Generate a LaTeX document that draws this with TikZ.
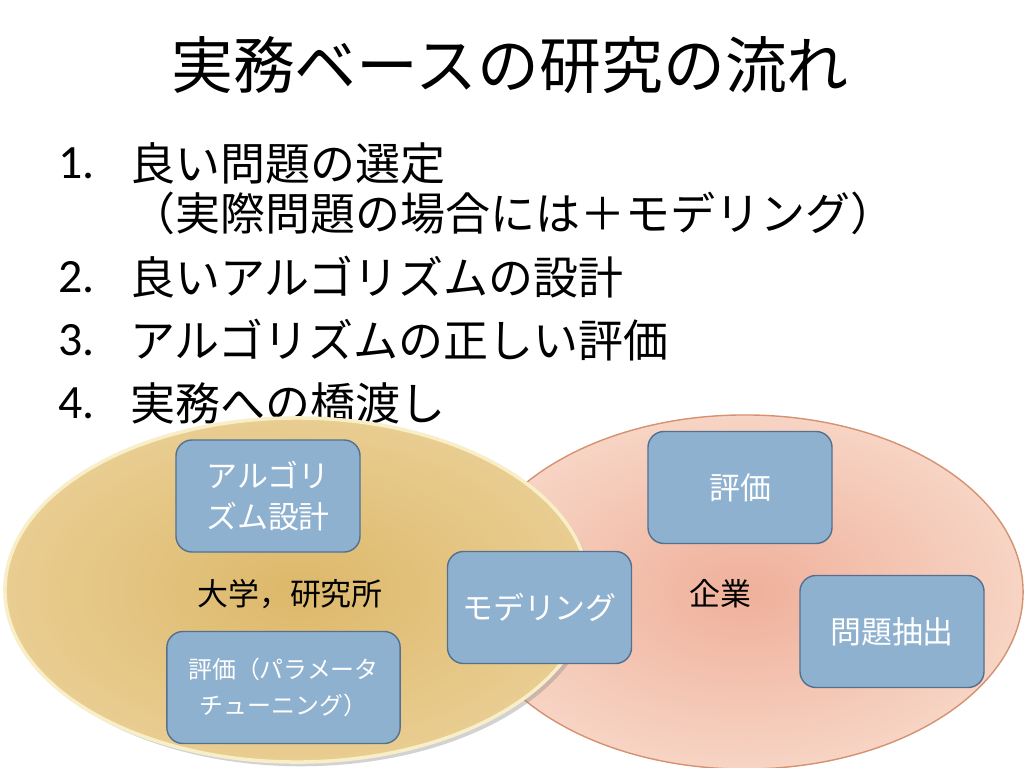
\documentclass[tikz,border=0pt]{standalone}
\usepackage{fontspec}
\setmainfont{Noto Sans CJK JP}
\newfontfamily\numfont{Carlito}
\usetikzlibrary{shapes.geometric,shadows}

\definecolor{goldin}{RGB}{220,184,106}
\definecolor{goldout}{RGB}{233,205,145}
\definecolor{goldline}{RGB}{248,238,200}
\definecolor{salmonin}{RGB}{239,176,154}
\definecolor{salmonout}{RGB}{247,212,196}
\definecolor{salmonline}{RGB}{214,146,112}
\definecolor{boxfill}{RGB}{143,177,208}
\definecolor{boxline}{RGB}{84,112,142}

\tikzset{
  region/.style={ellipse, inner sep=0pt},
  taskbox/.style={rectangle, rounded corners=0.4cm, fill=boxfill, draw=boxline,
    line width=1pt, text=white, align=center, inner sep=0pt,
    minimum width=4.6cm, minimum height=2.8cm, font=\fontsize{22}{28.5}\selectfont},
  item/.style={anchor=west, inner sep=0pt, font=\fontsize{32}{38}\selectfont},
  itemno/.style={anchor=west, inner sep=0pt, font=\numfont\fontsize{34}{38}\selectfont}
}

\begin{document}
\begin{tikzpicture}[x=0.025cm, y=-0.025cm]
                \useasboundingbox (0,0) rectangle (1024,768);
                \fill[white] (0,0) rectangle (1024,768);

                \node (title) at (510,65) {\fontsize{44}{50}\selectfont 実務ベースの研究の流れ};

                \node[itemno] (n1) at (58,163) {1.};
                \node[item] (i1) at (130,163) {良い問題の選定};
                \node[item] (i1b) at (130,213) {（実際問題の場合には＋モデリング）};
                \node[itemno] (n2) at (58,277) {2.};
                \node[item] (i2) at (130,277) {良いアルゴリズムの設計};
                \node[itemno] (n3) at (58,340) {3.};
                \node[item] (i3) at (130,340) {アルゴリズムの正しい評価};
                \node[itemno] (n4) at (58,403) {4.};
                \node[item] (i4) at (130,403) {実務への橋渡し};

                \node[region, minimum width=13.9cm, minimum height=8.85cm,
                  inner color=salmonin, outer color=salmonout, draw=salmonline, line width=1pt] (firm) at (745,592) {};
                \node[region, minimum width=14.6cm, minimum height=8.6cm,
                  inner color=goldin, outer color=goldout, draw=goldline, line width=2.5pt,
                  drop shadow={opacity=0.35, shadow xshift=3pt, shadow yshift=-3pt}] (univ) at (297,590) {};

                \node[font=\fontsize{22}{26}\selectfont] (univlabel) at (290,594) {大学，研究所};
                \node[font=\fontsize{22}{26}\selectfont] (firmlabel) at (720,594) {企業};

                \node[taskbox] (algo) at (268,496) {アルゴリ\\ズム設計};
                \node[taskbox, minimum width=5.83cm, font=\fontsize{17}{25.6}\selectfont] (tuning) at (283.5,687.5) {評価（パラメータ\\チューニング）};
                \node[taskbox] (model) at (539.5,607.5) {モデリング};
                \node[taskbox] (eval) at (740,487.5) {評価};
                \node[taskbox] (extract) at (892,631.5) {問題抽出};
            \end{tikzpicture}
\end{document}
